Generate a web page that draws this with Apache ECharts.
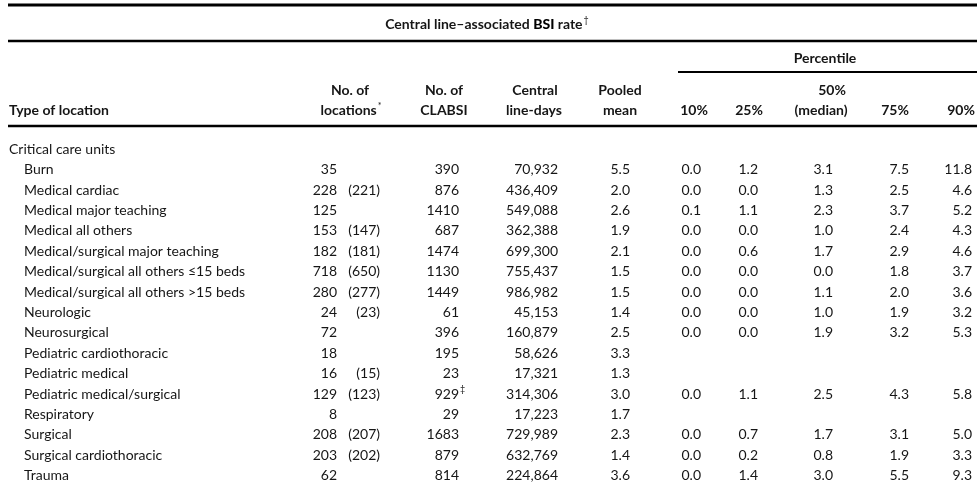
<!DOCTYPE html>
<html>
<head>
<meta charset="utf-8">
<script src="https://cdn.jsdelivr.net/npm/echarts@6/dist/echarts.min.js"></script>
<style>
html,body{margin:0;padding:0;background:#fff;}
#chart{width:980px;height:504px;}
</style>
</head>
<body>
<div id="chart"></div>
<script>
// ---- data ----
const rowLabels = ['Critical care units','Burn','Medical cardiac','Medical major teaching','Medical all others',
  'Medical/surgical major teaching','Medical/surgical all others \u226415 beds','Medical/surgical all others >15 beds',
  'Neurologic','Neurosurgical','Pediatric cardiothoracic','Pediatric medical','Pediatric medical/surgical',
  'Respiratory','Surgical','Surgical cardiothoracic','Trauma'];
const groupRows = ['Critical care units'];
const locations    = [null,35,228,125,153,182,718,280,24,72,18,16,129,8,208,203,62];
const locationsAlt = [null,null,221,null,147,181,650,277,23,null,null,15,123,null,207,202,null];
const clabsi       = [null,390,876,1410,687,1474,1130,1449,61,396,195,23,929,29,1683,879,814];
const clabsiNote   = [null,null,null,null,null,null,null,null,null,null,null,null,'\u2021',null,null,null,null];
const lineDays     = [null,70932,436409,549088,362388,699300,755437,986982,45153,160879,58626,17321,314306,17223,729989,632769,224864];
const pooledMean   = [null,5.5,2.0,2.6,1.9,2.1,1.5,1.5,1.4,2.5,3.3,1.3,3.0,1.7,2.3,1.4,3.6];
const p10 = [null,0.0,0.0,0.1,0.0,0.0,0.0,0.0,0.0,0.0,null,null,0.0,null,0.0,0.0,0.0];
const p25 = [null,1.2,0.0,1.1,0.0,0.6,0.0,0.0,0.0,0.0,null,null,1.1,null,0.7,0.2,1.4];
const p50 = [null,3.1,1.3,2.3,1.0,1.7,0.0,1.1,1.0,1.9,null,null,2.5,null,1.7,0.8,3.0];
const p75 = [null,7.5,2.5,3.7,2.4,2.9,1.8,2.0,1.9,3.2,null,null,4.3,null,3.1,1.9,5.5];
const p90 = [null,11.8,4.6,5.2,4.3,4.6,3.7,3.6,3.2,5.3,null,null,5.8,null,5.0,3.3,9.3];

const titleText = 'Central line\u2013associated ';
const titleBold = 'BSI';
const titleRest = ' rate';
const titleMark = '\u2020';
const percentileLabel = 'Percentile';
const headerTop = ['No. of','No. of','Central','Pooled','50%'];
const headerBottom = ['Type of location','locations','CLABSI','line-days','mean','10%','25%','(median)','75%','90%'];
const headerNote = '*';

// ---- layout ----
const FAMILY = 'Lato, "Open Sans", sans-serif';
const FS = 14;
const INK = '#161616';
// right-aligned column anchors (x on a 0..980 axis)
const colX = {name:24, group:9, loc:337, locAlt:380, clabsi:459, days:558, pooled:630, p10:701, p25:758, p50:833, p75:909, p90:972};

function fmt1(v){ return v == null ? '' : v.toFixed(1); }
function fmtInt(v){ return v == null ? '' : v.toLocaleString('en-US'); }

const chart = echarts.init(document.getElementById('chart'), null, {renderer:'canvas'});

function txt(x, y, text, align){
  return {type:'text', style:{x:x, y:y, text:text, align:align, verticalAlign:'middle',
      fontSize:FS, fontFamily:FAMILY, fill:INK}};
}
function head(x, y, text, align){
  return {type:'text', x:x, y:y, style:{text:text, align:align||'center', verticalAlign:'middle',
      fontSize:FS, fontFamily:FAMILY, fontWeight:'bold', fill:INK}};
}

const option = {
  animation:false,
  backgroundColor:'#fff',
  grid:{left:0, right:0, top:139, bottom:18},
  xAxis:{type:'value', min:0, max:980, show:false},
  yAxis:{type:'category', data:rowLabels, inverse:true, show:false},
  series:[{
    type:'custom',
    data: rowLabels.map((n,i)=>[0, i]),
    renderItem:function(params, api){
      const i = params.dataIndex;
      const y = api.coord([0, i])[1];
      const X = k => api.coord([colX[k], i])[0];
      const isGroup = groupRows.indexOf(rowLabels[i]) >= 0;
      const kids = [];
      kids.push(txt(isGroup ? X('group') : X('name'), y, rowLabels[i], 'left'));
      if (locations[i] != null) kids.push(txt(X('loc'), y, String(locations[i]), 'right'));
      if (locationsAlt[i] != null) kids.push(txt(X('locAlt'), y, '(' + locationsAlt[i] + ')', 'right'));
      if (clabsi[i] != null) kids.push(txt(X('clabsi'), y, String(clabsi[i]), 'right'));
      if (clabsiNote[i]) kids.push({type:'text', style:{x:X('clabsi')+1, y:y-5, text:clabsiNote[i], align:'left', verticalAlign:'middle', fontSize:9, fontFamily:FAMILY, fill:INK}});
      if (lineDays[i] != null) kids.push(txt(X('days'), y, fmtInt(lineDays[i]), 'right'));
      if (pooledMean[i] != null) kids.push(txt(X('pooled'), y, fmt1(pooledMean[i]), 'right'));
      [['p10',p10],['p25',p25],['p50',p50],['p75',p75],['p90',p90]].forEach(([k,arr])=>{
        if (arr[i] != null) kids.push(txt(X(k), y, fmt1(arr[i]), 'right'));
      });
      return {type:'group', children:kids};
    }
  }],
  graphic:[
    // rules
    {type:'line', shape:{x1:8,y1:5,x2:977,y2:5}, style:{stroke:'#000', lineWidth:3}},
    {type:'line', shape:{x1:8,y1:41,x2:977,y2:41}, style:{stroke:'#000', lineWidth:2.5}},
    {type:'line', shape:{x1:678,y1:72,x2:977,y2:72}, style:{stroke:'#000', lineWidth:2}},
    {type:'line', shape:{x1:8,y1:126,x2:977,y2:126}, style:{stroke:'#000', lineWidth:2.5}},
    // title
    {type:'text', x:487, y:24, style:{
      text:'{r|' + titleText + '}{b|' + titleBold + '}{r|' + titleRest + '}{s|' + titleMark + '}',
      align:'center', verticalAlign:'middle',
      rich:{
        r:{fontSize:FS, fontFamily:FAMILY, fontWeight:'bold', fill:INK},
        b:{fontSize:FS, fontFamily:FAMILY, fontWeight:900, fill:'#000'},
        s:{fontSize:9, fontFamily:FAMILY, fill:INK, verticalAlign:'top', padding:[0,0,7,1]}
      }}},
    head(825, 58, percentileLabel),
    // header top line
    head(350, 90, headerTop[0]),
    head(444, 90, headerTop[1]),
    head(535, 90, headerTop[2]),
    head(620, 90, headerTop[3]),
    head(832, 90, headerTop[4]),
    // header bottom line
    head(9, 110, headerBottom[0], 'left'),
    {type:'text', x:351, y:110, style:{
      text:'{h|' + headerBottom[1] + '}{s|' + headerNote + '}', align:'center', verticalAlign:'middle',
      rich:{
        h:{fontSize:FS, fontFamily:FAMILY, fontWeight:'bold', fill:INK},
        s:{fontSize:9, fontFamily:FAMILY, fill:INK, verticalAlign:'top', padding:[0,0,7,1]}
      }}},
    head(444, 110, headerBottom[2]),
    head(534, 110, headerBottom[3]),
    head(620, 110, headerBottom[4]),
    head(694, 110, headerBottom[5]),
    head(749, 110, headerBottom[6]),
    head(821, 110, headerBottom[7]),
    head(895, 110, headerBottom[8]),
    head(961, 110, headerBottom[9])
  ]
};
chart.setOption(option);
</script>
</body>
</html>
